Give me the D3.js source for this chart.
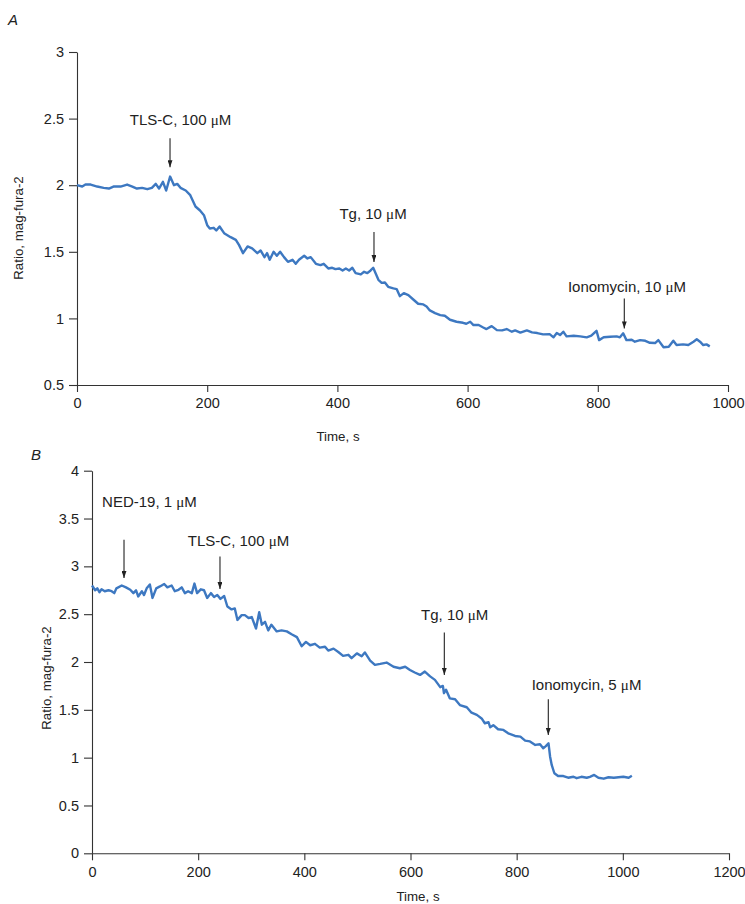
<!DOCTYPE html>
<html>
<head>
<meta charset="utf-8">
<script src="https://cdn.jsdelivr.net/npm/d3@7/dist/d3.min.js"></script>
<style>
  html, body { margin: 0; padding: 0; background: #fff; }
  svg { display: block; font-family: "Liberation Sans", Arial, sans-serif; }
</style>
</head>
<body>
<svg id="chart" width="745" height="904"></svg>
<script>
// ---------------- DATA ----------------
// Panel A: [time (s), ratio]
const seriesA = [
  [0,2.00],[8,1.99],[13,2.005],[21,2.005],[31,1.99],[41,1.98],[49,1.975],[56,1.99],[67,1.99],[77,2.005],
  [85,1.99],[92,1.975],[100,1.98],[108,1.97],[115,1.98],[121,2.01],[126,1.975],[132,2.025],[137,1.96],[143,2.065],
  [149,2.00],[154,2.01],[159,1.98],[167,1.96],[174,1.925],[182,1.84],[189,1.81],[195,1.775],[200,1.70],[204,1.675],
  [210,1.68],[214,1.66],[219,1.69],[226,1.64],[236,1.61],[244,1.59],[249,1.55],[255,1.49],[262,1.54],[269,1.525],
  [277,1.49],[282,1.51],[288,1.46],[292,1.49],[296,1.44],[302,1.50],[307,1.47],[312,1.50],[318,1.46],[324,1.425],
  [331,1.44],[336,1.41],[341,1.44],[349,1.47],[354,1.45],[359,1.46],[367,1.41],[374,1.40],[379,1.41],[386,1.375],
  [392,1.38],[397,1.37],[403,1.375],[408,1.36],[413,1.375],[418,1.36],[423,1.38],[428,1.34],[436,1.33],[441,1.35],
  [446,1.34],[451,1.36],[455,1.38],[463,1.29],[468,1.267],[473,1.27],[478,1.237],[486,1.225],[491,1.22],[496,1.167],
  [502,1.19],[509,1.175],[517,1.14],[524,1.11],[532,1.105],[537,1.09],[542,1.06],[550,1.04],[558,1.025],[565,1.02],
  [573,0.99],[583,0.975],[593,0.967],[598,0.96],[604,0.975],[609,0.95],[617,0.95],[624,0.932],[629,0.92],[637,0.942],
  [645,0.912],[653,0.91],[660,0.92],[668,0.90],[673,0.91],[681,0.893],[691,0.91],[699,0.895],[707,0.89],[716,0.88],
  [726,0.882],[732,0.858],[737,0.89],[742,0.875],[747,0.90],[752,0.865],[763,0.87],[773,0.865],[783,0.858],[790,0.87],
  [798,0.907],[802,0.837],[809,0.858],[819,0.862],[829,0.865],[834,0.858],[839,0.888],[844,0.837],[852,0.84],[857,0.825],
  [865,0.837],[873,0.832],[880,0.817],[888,0.815],[893,0.837],[901,0.783],[909,0.787],[916,0.832],[921,0.80],[931,0.805],
  [939,0.80],[947,0.825],[952,0.843],[957,0.825],[962,0.80],[967,0.805],[972,0.79]
];

// Panel B: [time (s), ratio]
const seriesB = [
  [0,2.80],[6,2.75],[10,2.77],[14,2.73],[18,2.76],[24,2.74],[31,2.75],[37,2.74],[42,2.72],[46,2.77],
  [56,2.80],[64,2.78],[72,2.755],[78,2.72],[83,2.75],[87,2.685],[94,2.74],[98,2.70],[103,2.77],[109,2.81],
  [114,2.67],[121,2.77],[128,2.79],[136,2.815],[142,2.78],[150,2.80],[156,2.74],[163,2.755],[169,2.78],[175,2.72],
  [181,2.74],[188,2.72],[193,2.82],[198,2.72],[205,2.76],[211,2.75],[217,2.67],[224,2.72],[230,2.68],[236,2.70],
  [242,2.66],[249,2.69],[255,2.58],[263,2.55],[269,2.56],[274,2.44],[282,2.49],[288,2.49],[295,2.46],[301,2.47],
  [309,2.35],[315,2.52],[320,2.39],[326,2.42],[332,2.33],[338,2.39],[348,2.32],[357,2.33],[367,2.32],[376,2.29],
  [386,2.26],[395,2.165],[403,2.21],[411,2.175],[420,2.19],[429,2.15],[439,2.16],[445,2.12],[455,2.14],[464,2.105],
  [473,2.064],[483,2.075],[489,2.04],[499,2.09],[508,2.06],[514,2.10],[524,2.015],[533,1.97],[543,1.98],[555,1.994],
  [568,1.95],[580,1.935],[590,1.95],[599,1.917],[608,1.89],[618,1.865],[627,1.90],[637,1.85],[646,1.813],[656,1.737],
  [661,1.75],[663,1.674],[667,1.71],[674,1.62],[684,1.61],[693,1.55],[706,1.527],[715,1.47],[725,1.447],[734,1.41],
  [740,1.36],[747,1.37],[750,1.318],[756,1.34],[765,1.297],[775,1.29],[784,1.255],[797,1.227],[807,1.22],[816,1.178],
  [825,1.17],[835,1.133],[844,1.14],[850,1.098],[855,1.12],[860,1.15],[863,1.01],[866,0.924],[871,0.837],[878,0.808],
  [888,0.808],[897,0.79],[907,0.80],[913,0.785],[922,0.80],[932,0.79],[938,0.80],[946,0.819],[954,0.79],[964,0.78],
  [973,0.795],[983,0.79],[992,0.795],[1001,0.80],[1011,0.79],[1017,0.81]
];

// Tick values
const xTicksA = [0, 200, 400, 600, 800, 1000];
const yTicksA = [0.5, 1, 1.5, 2, 2.5, 3];
const xTicksB = [0, 200, 400, 600, 800, 1000, 1200];
const yTicksB = [0, 0.5, 1, 1.5, 2, 2.5, 3, 3.5, 4];

// Annotations (data units: arrow time, arrow top/tip ratio, label centre)
const annotationsA = [
  { label: "TLS-C, 100 μM",      t: 142.9, top: 2.352, tip: 2.135, labelT: 159,   labelV: 2.49 },
  { label: "Tg, 10 μM",          t: 456.2, top: 1.648, tip: 1.423, labelT: 454.7, labelV: 1.788 },
  { label: "Ionomycin, 10 μM",   t: 840.7, top: 1.150, tip: 0.925, labelT: 844.8, labelV: 1.237 }
];
const annotationsB = [
  { label: "NED-19, 1 μM",       t: 60.3,  top: 3.277, tip: 2.877, labelT: 108.3, labelV: 3.672 },
  { label: "TLS-C, 100 μM",      t: 241.1, top: 3.103, tip: 2.762, labelT: 276,   labelV: 3.267 },
  { label: "Tg, 10 μM",          t: 663.7, top: 2.308, tip: 1.865, labelT: 683.3, labelV: 2.493 },
  { label: "Ionomycin, 5 μM",    t: 859.6, top: 1.611, tip: 1.237, labelT: 931.6, labelV: 1.768 }
];

// ---------------- DRAW ----------------
const svg = d3.select("#chart");
const LINE_COLOR = "#3d78c1";
const AXIS_COLOR = "#333";
const TEXT_COLOR = "#222";

svg.append("defs").append("marker")
  .attr("id", "arrowhead")
  .attr("viewBox", "0 0 10 7")
  .attr("refX", 10).attr("refY", 3.5)
  .attr("markerWidth", 7).attr("markerHeight", 5)
  .attr("markerUnits", "userSpaceOnUse")
  .attr("orient", "auto")
  .append("path").attr("d", "M0,0 L10,3.5 L0,7 z").attr("fill", "#222");

function drawPanel(cfg) {
  const g = svg.append("g");
  const x = d3.scaleLinear().domain(cfg.xDomain).range(cfg.xRange);
  const y = d3.scaleLinear().domain(cfg.yDomain).range(cfg.yRange);

  const xAxis = g.append("g")
    .attr("transform", `translate(0,${cfg.yRange[0]})`)
    .call(d3.axisBottom(x).tickValues(cfg.xTicks).tickSize(7).tickSizeOuter(0).tickPadding(6).tickFormat(d3.format("d")));
  const yAxis = g.append("g")
    .attr("transform", `translate(${cfg.xRange[0]},0)`)
    .call(d3.axisLeft(y).tickValues(cfg.yTicks).tickSize(8).tickSizeOuter(0).tickPadding(5).tickFormat(d3.format("~g")));

  [xAxis, yAxis].forEach(a => {
    a.select(".domain").attr("stroke", AXIS_COLOR).attr("stroke-width", 1.1);
    a.selectAll(".tick line").attr("stroke", AXIS_COLOR).attr("stroke-width", 1.1);
    a.selectAll(".tick text").attr("fill", TEXT_COLOR)
      .style("font-size", "14.5px").style("font-family", "'Liberation Sans', Arial, sans-serif");
  });

  // data line
  const line = d3.line().x(d => x(d[0])).y(d => y(d[1]));
  g.append("path").datum(cfg.series)
    .attr("fill", "none")
    .attr("stroke", LINE_COLOR)
    .attr("stroke-width", 2.4)
    .attr("stroke-linejoin", "round")
    .attr("d", line);

  // annotations
  cfg.annotations.forEach(a => {
    g.append("line")
      .attr("x1", x(a.t)).attr("x2", x(a.t))
      .attr("y1", y(a.top)).attr("y2", y(a.tip))
      .attr("stroke", "#222").attr("stroke-width", 1.1)
      .attr("marker-end", "url(#arrowhead)");
    const parts = a.label.split("μ");
    const txt = g.append("text")
      .attr("x", x(a.labelT)).attr("y", y(a.labelV))
      .attr("dy", "0.36em")
      .attr("text-anchor", "middle")
      .attr("fill", TEXT_COLOR)
      .style("font-size", "15px");
    txt.append("tspan").text(parts[0]);
    if (parts.length > 1) {
      txt.append("tspan").style("font-family", "'Liberation Serif', 'DejaVu Serif', serif").text("μ");
      txt.append("tspan").text(parts[1]);
    }
  });

  // axis titles
  g.append("text")
    .attr("x", cfg.xTitlePos[0]).attr("y", cfg.xTitlePos[1])
    .attr("text-anchor", "middle").attr("fill", TEXT_COLOR)
    .style("font-size", "13.3px").text("Time, s");
  g.append("text")
    .attr("transform", `translate(${cfg.yTitlePos[0]},${cfg.yTitlePos[1]}) rotate(-90)`)
    .attr("text-anchor", "middle").attr("dy", "0.35em").attr("fill", TEXT_COLOR)
    .style("font-size", "13.3px").text("Ratio, mag-fura-2");

  // panel letter
  g.append("text")
    .attr("x", cfg.letterPos[0]).attr("y", cfg.letterPos[1])
    .attr("fill", TEXT_COLOR)
    .style("font-size", "15px").style("font-style", "italic")
    .text(cfg.letter);
}

drawPanel({
  series: seriesA, annotations: annotationsA,
  xDomain: [0, 1000], xRange: [77, 728],
  yDomain: [0.5, 3], yRange: [385, 52],
  xTicks: xTicksA, yTicks: yTicksA,
  xTitlePos: [338, 441], yTitlePos: [18, 228], letterPos: [8, 25], letter: "A"
});

drawPanel({
  series: seriesB, annotations: annotationsB,
  xDomain: [0, 1200], xRange: [92, 729],
  yDomain: [0, 4], yRange: [853.3, 470.7],
  xTicks: xTicksB, yTicks: yTicksB,
  xTitlePos: [418, 901], yTitlePos: [46, 678], letterPos: [31, 460], letter: "B"
});
</script>
</body>
</html>
